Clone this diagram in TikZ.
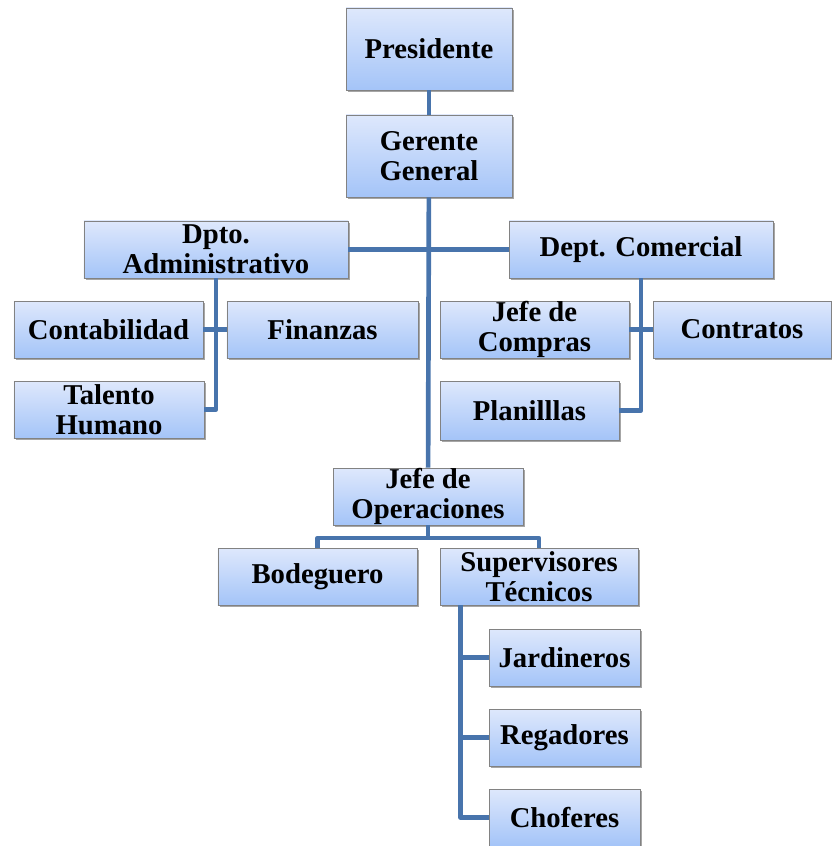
\documentclass[tikz,border=0pt]{standalone}
\usepackage{fontspec}
\setmainfont{Liberation Serif}
\usepackage{xcolor}
\definecolor{boxtop}{RGB}{222, 232, 252}
\definecolor{boxbottom}{RGB}{164, 196, 248}
\definecolor{boxedge}{RGB}{130, 130, 130}
\definecolor{linkblue}{RGB}{72, 116, 172}
\usepackage{tikz}
\usetikzlibrary{shadows, calc}

\begin{document}
\begin{tikzpicture}[x=0.03cm, y=-0.03cm,
    cargo/.style={draw=boxedge, line width=0.8pt, top color=boxtop, bottom color=boxbottom,
        drop shadow={shadow xshift=1.5pt, shadow yshift=-2pt, opacity=0.35, fill=black},
        minimum height=1.71cm, inner sep=0pt, align=center,
        font=\bfseries\fontsize{24.5}{26}\selectfont},
    link/.style={draw=linkblue, line width=4pt, line join=round}]
    \useasboundingbox (0,0) rectangle (831,846);
    % direccion
    \node[cargo, minimum width=4.98cm, minimum height=2.46cm] (pres) at (429,49) {Presidente};
    \node[cargo, minimum width=4.98cm, minimum height=2.46cm] (gg) at (429,156) {Gerente\\General};
    \node[cargo, minimum width=7.92cm] (admin) at (216,249.5) {Dpto.\\Administrativo};
    \node[cargo, minimum width=7.92cm] (comer) at (641,249.5) {Dept. Comercial};
    % area administrativa
    \node[cargo, minimum width=5.67cm] (conta) at (108.5,329.5) {Contabilidad};
    \node[cargo, minimum width=5.73cm] (finan) at (322.5,329.5) {Finanzas};
    \node[cargo, minimum width=5.70cm] (talento) at (109,409.5) {Talento\\Humano};
    % area comercial
    \node[cargo, minimum width=5.67cm] (compras) at (534.5,329.5) {Jefe de\\Compras};
    \node[cargo, minimum width=5.34cm] (contr) at (742,329.5) {Contratos};
    \node[cargo, minimum width=5.37cm, minimum height=1.77cm] (plan) at (529.5,410.5) {Planilllas};
    % operaciones
    \node[cargo, minimum width=5.70cm] (jop) at (428,496.5) {Jefe de\\Operaciones};
    \node[cargo, minimum width=5.97cm] (bode) at (317.5,576.5) {Bodeguero};
    \node[cargo, minimum width=5.94cm] (sup) at (539,576.5) {Supervisores\\Técnicos};
    \node[cargo, minimum width=4.53cm] (jard) at (564.5,657.5) {Jardineros};
    \node[cargo, minimum width=4.53cm] (rega) at (564.5,737.5) {Regadores};
    \node[cargo, minimum width=4.53cm] (chof) at (564.5,817.5) {Choferes};

    \coordinate (opsbar) at (428,538);
    \coordinate (suptop) at ([xshift=0.63cm]sup.south west);

    \draw[link] (pres) -- (gg);
    \draw[link] (gg) -- (jop);
    \draw[link] (admin) -- (comer);
    \draw[link] (admin) |- (talento);
    \draw[link] (conta) -- (finan);
    \draw[link] (comer) |- (plan);
    \draw[link] (compras) -- (contr);
    \draw[link] (jop) -- (opsbar);
    \draw[link] (bode) |- (opsbar) -| (sup);
    \draw[link] (suptop) |- (chof);
    \foreach \n in {jard, rega}
        \draw[link] (\n.west) -- (\n.west -| suptop);
\end{tikzpicture}
\end{document}
